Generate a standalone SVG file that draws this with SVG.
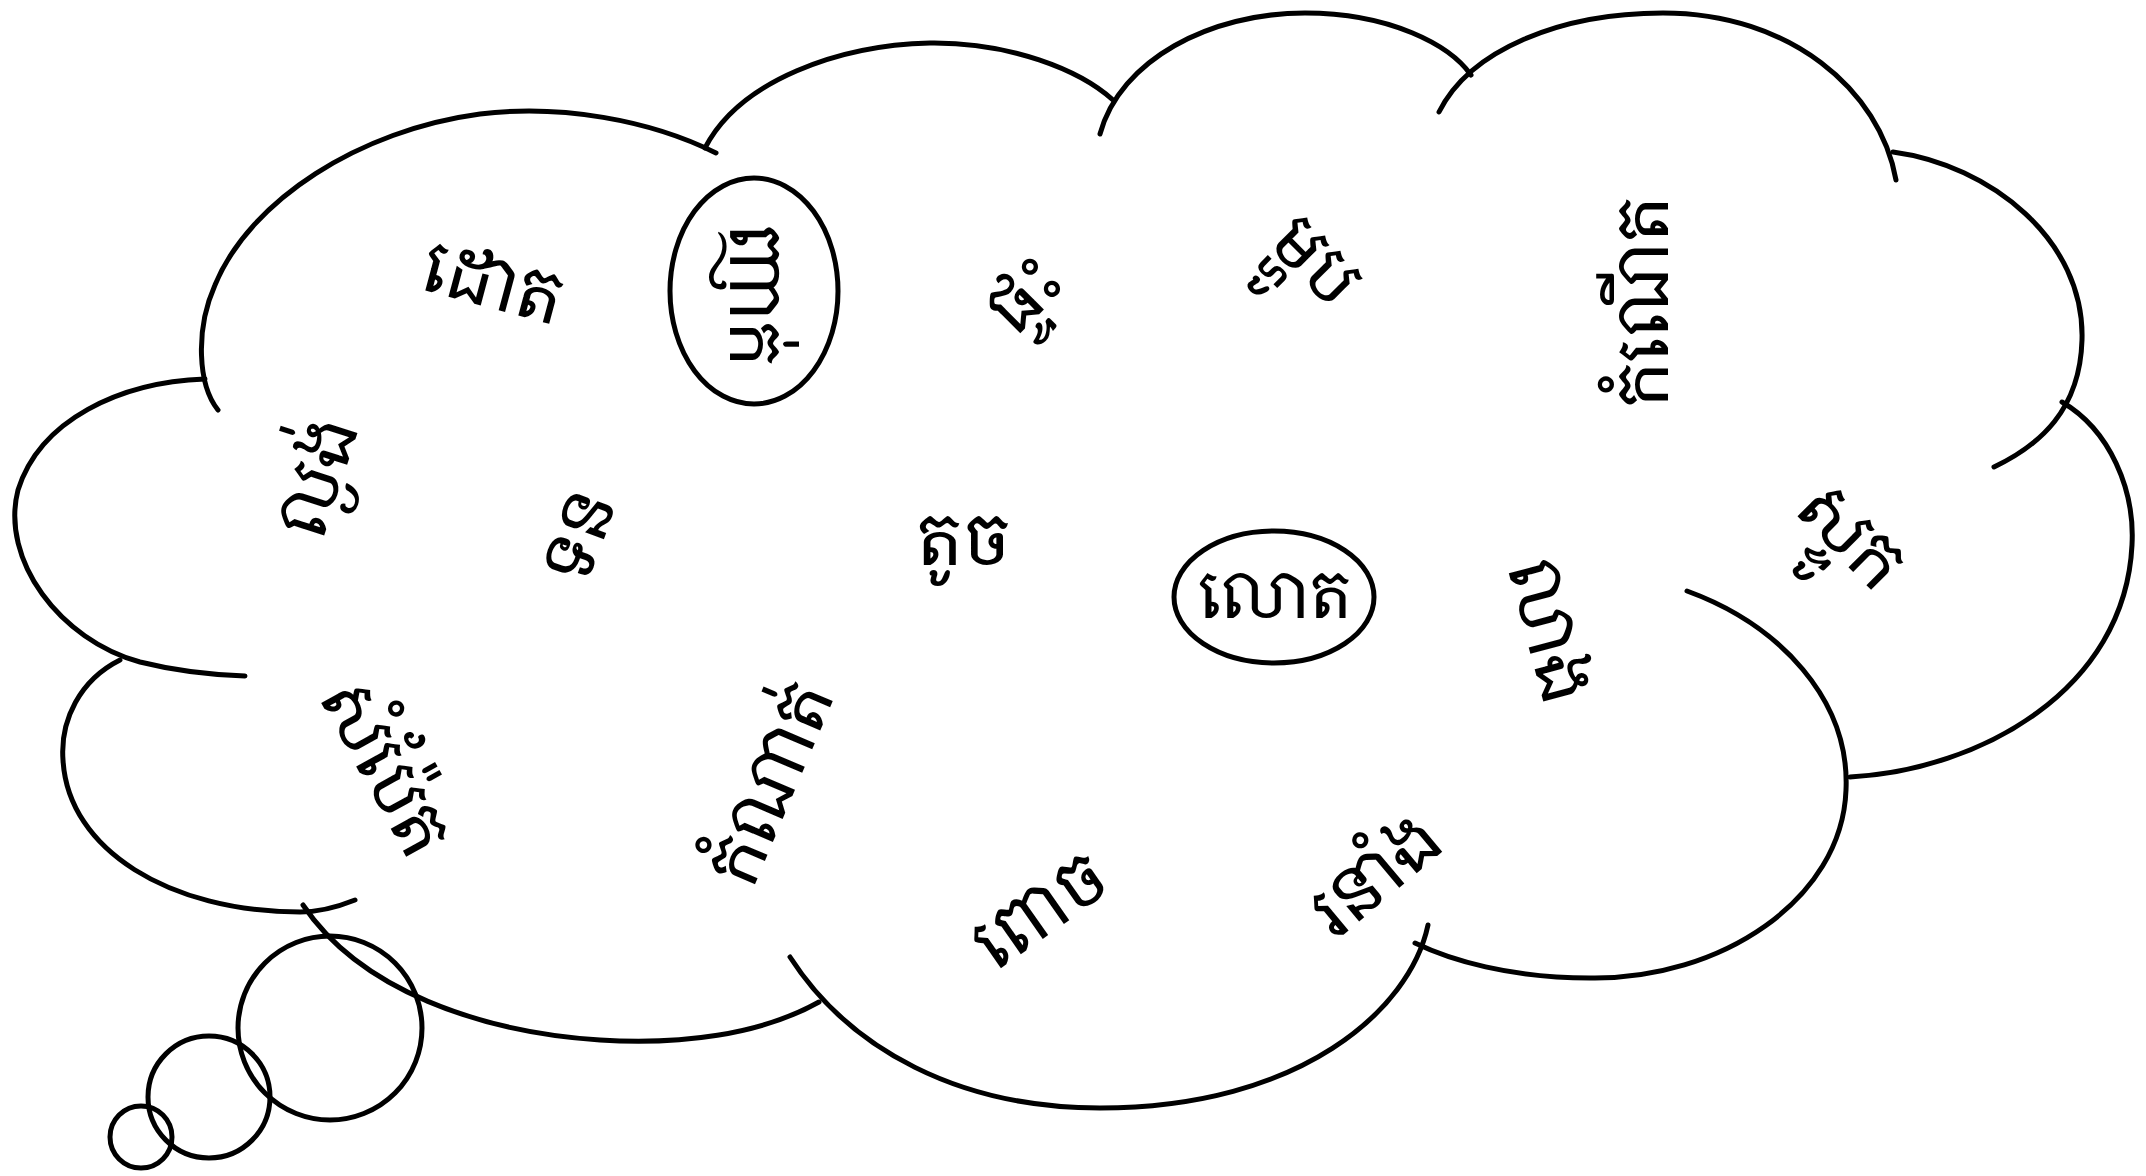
<svg xmlns="http://www.w3.org/2000/svg" width="2146" height="1176" viewBox="0 0 2146 1176">
<style>
.c{fill:none;stroke:#000;stroke-width:5;stroke-linecap:round}
.w{font-family:"Khmer OS Battambang","Noto Serif Khmer","Noto Sans Khmer","Khmer OS","Noto Sans","DejaVu Sans",sans-serif;font-size:72px;fill:#000;text-anchor:middle;dominant-baseline:central}
</style>
<rect width="2146" height="1176" fill="#fff"/>
<g id="cloud">
<path class="c" d="M218,410 C198,385 195,330 215,285 C250,200 360,130 480,114 C560,104 650,120 716,153"/>
<path class="c" d="M705,148 C740,80 840,45 930,43 C1010,42 1080,70 1113,100"/>
<path class="c" d="M1100,134 C1120,60 1210,13 1305,13 C1390,13 1450,45 1471,75"/>
<path class="c" d="M1439,112 C1470,50 1560,13 1663,13 C1790,13 1880,90 1896,180"/>
<path class="c" d="M1893,152 C1990,165 2085,240 2082,340 C2080,410 2040,445 1994,467"/>
<path class="c" d="M2062,402 C2110,430 2135,490 2132,545 C2125,690 1980,770 1850,777"/>
<path class="c" d="M1687,591 C1780,625 1850,700 1846,790 C1842,900 1720,980 1590,978 C1510,978 1450,960 1415,943"/>
<path class="c" d="M1428,925 C1410,1010 1300,1108 1100,1108 C960,1108 850,1050 790,957"/>
<path class="c" d="M819,1002 C760,1035 680,1045 600,1040 C480,1032 360,990 303,905"/>
<path class="c" d="M120,660 C80,680 60,720 63,760 C68,850 170,912 300,912 C320,912 340,906 355,900"/>
<path class="c" d="M205,379 C120,382 40,420 18,490 C0,560 60,640 140,662 C180,672 215,675 245,676"/>
</g>
<g id="bubbles">
<circle class="c" cx="330" cy="1028" r="92"/>
<circle class="c" cx="209" cy="1097" r="61"/>
<circle class="c" cx="141" cy="1137" r="31"/>
</g>
<g id="w-dot"><text class="w" transform="translate(494,280) rotate(15)">ដោត</text></g>
<g id="w-nhak"><ellipse class="c" cx="754" cy="291" rx="84" ry="113"/><text class="w" transform="translate(758,295) rotate(90)">ញាក់</text></g>
<g id="w-phteah"><text class="w" transform="translate(1022,292) rotate(-45)">ផ្ទះ</text></g>
<g id="w-mhob"><text class="w" transform="translate(1318,258) rotate(45)">ម្ហូប</text></g>
<g id="w-kamnaet"><text class="w" transform="translate(1640,302) rotate(-90)">កំណើត</text></g>
<g id="w-lngong"><text class="w" transform="translate(314,476) rotate(-72)">ល្ងង់</text></g>
<g id="w-tun"><text class="w" transform="translate(576,534) rotate(-70)">ទន</text></g>
<g id="w-toch"><text class="w" transform="translate(963,537)">តូច</text></g>
<g id="w-lot"><ellipse class="c" cx="1274" cy="597" rx="100" ry="66"/><text class="w" style="font-size:66px" transform="translate(1275,592)">លោត</text></g>
<g id="w-leang"><text class="w" transform="translate(1553,630) rotate(75)">លាង</text></g>
<g id="w-stuk"><text class="w" transform="translate(1854,533) rotate(45)">ស្ទូក</text></g>
<g id="w-sambet"><text class="w" transform="translate(388,766) rotate(61)">សំប៉ែត</text></g>
<g id="w-kamnat"><text class="w" transform="translate(768,782) rotate(-67)">កំណាត់</text></g>
<g id="w-poch"><text class="w" transform="translate(1038,908) rotate(-35)">ពោច</text></g>
<g id="w-rneang"><text class="w" transform="translate(1372,874) rotate(-40)">រនាំង</text></g>
</svg>
